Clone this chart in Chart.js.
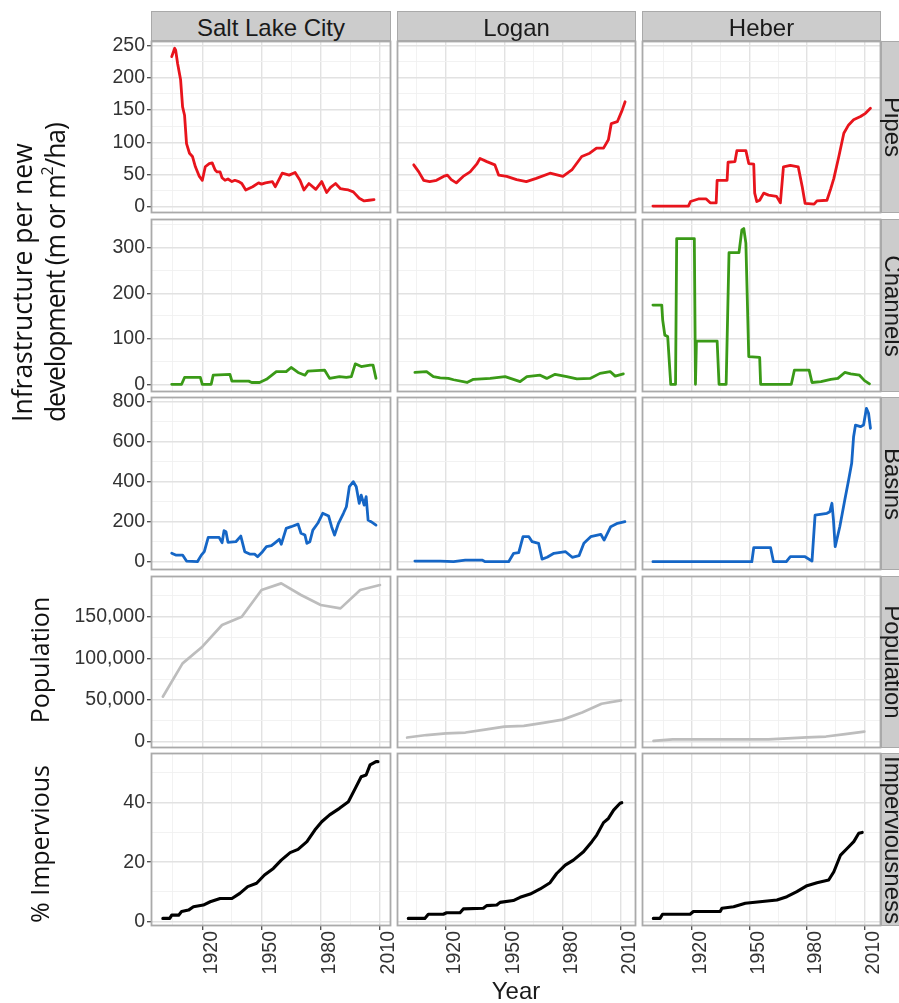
<!DOCTYPE html>
<html>
<head>
<meta charset="utf-8">
<title>Urban stormwater infrastructure, population and imperviousness</title>
<script src="https://cdn.jsdelivr.net/npm/chart.js@4.4.1/dist/chart.umd.min.js"></script>
<style>
  html, body { margin: 0; padding: 0; background: #ffffff; }
  body { width: 899px; height: 1003px; position: relative; overflow: hidden; }
  #fig { position: absolute; left: 0; top: 0; width: 899px; height: 1003px; }
  #fig canvas { position: absolute; }
  .strip { position: absolute; box-sizing: border-box; background: #cccccc; border: 1px solid #a9a9a9; }
  .txt { position: absolute; white-space: nowrap; color: #1a1a1a; }
  .strip-top { font: 24px "Liberation Sans", Arial, sans-serif; text-align: center; line-height: 31px; color: #1a1a1a; }
  .side { font: 24px "Liberation Sans", Arial, sans-serif; line-height: 27px; transform-origin: 0 0; transform: rotate(90deg) translateX(-50%); }
  .ytitle { font-family: "Open Sans", "Noto Sans", sans-serif; transform-origin: 0 0; color: #111; }
</style>
</head>
<body>
<div id="fig"></div>
<script>
// Facets
const cities = ['Salt Lake City', 'Logan', 'Heber'];
const measures = ['Pipes', 'Channels', 'Basins', 'Population', 'Imperviousness'];

// Axis tick labels
const yearTicks = [1920, 1950, 1980, 2010];
const pipesTicks = [0, 50, 100, 150, 200, 250];
const channelsTicks = [0, 100, 200, 300];
const basinsTicks = [0, 200, 400, 600, 800];
const populationTicks = [0, 50000, 100000, 150000];
const imperviousTicks = [0, 20, 40];

// Pipes, m per ha of new development: [year, value]
const pipesSaltLake = [[1904.5,233],[1906,246],[1906.5,243],[1907.5,222],[1909,197],[1910,155],[1911,142],[1912,98],[1913.5,83],[1915,78],[1916.5,62],[1918.5,47],[1920,41],[1921.5,62],[1923.5,67],[1925,68],[1926.5,57],[1927.5,54],[1929,54],[1930,45],[1931.5,41],[1933,43],[1935,39],[1936.5,41],[1938.5,39],[1940,36],[1942,26],[1945.5,31],[1948.5,37],[1950,35],[1952,37],[1955.5,39],[1957,31],[1958.5,40],[1960.5,52],[1964,49],[1967,53],[1969.5,41],[1971.5,26],[1974,36],[1977.5,27],[1980.5,39],[1983,22],[1985,30],[1987.5,36],[1990,28],[1992,27],[1994,26],[1996.5,23],[1999.5,13],[2002,9],[2004.5,10],[2007,11]];
const pipesLogan = [[1903.4,65],[1906,54],[1908.5,41],[1911.6,39],[1915.1,41],[1918.7,47],[1920.7,49],[1922.7,42],[1925.3,37],[1928.8,47],[1932.4,54],[1936,67],[1937.5,75],[1941,70],[1945.1,65],[1947.1,49],[1951.2,47],[1956.3,42],[1961.3,39],[1966.4,44],[1973.5,52],[1980.1,47],[1984.7,57],[1989.8,78],[1993.9,83],[1997.4,91],[2001,91],[2003.5,104],[2005,129],[2008.1,132],[2010.6,150],[2012.1,163]];
const pipesHeber = [[1899.7,1],[1918.2,1],[1919.3,8],[1923.4,12],[1927.5,12],[1929.6,6],[1932.7,6],[1933.2,41],[1938.4,41],[1938.9,69],[1942.5,70],[1943.5,87],[1948.2,87],[1949.7,67],[1952.3,66],[1952.8,21],[1953.9,8],[1955.4,10],[1957.5,21],[1960,18],[1964.2,16],[1966.2,6],[1967.8,62],[1971.4,64],[1975.5,62],[1977.6,31],[1979.1,5],[1983.8,4],[1985.3,9],[1990.5,10],[1992.5,28],[1994.1,44],[1996.7,78],[1999.3,114],[2001.8,127],[2004.4,135],[2008,140],[2010.6,145],[2013.2,153]];

// Channels, m per ha of new development
const channelsSaltLake = [[1904.5,0],[1909.5,0],[1911,15],[1919,15],[1920,0],[1924.5,0],[1925.5,20],[1934,22],[1935,7],[1943.5,7],[1945,4],[1949,4],[1952.5,11],[1957.5,28],[1962.5,28],[1965,37],[1968.5,26],[1972,20],[1973.5,29],[1982,31],[1984.5,13],[1989.5,17],[1993,15],[1995.5,17],[1997.5,45],[2000.5,39],[2005,42],[2006.5,42],[2008,13]];
const channelsLogan = [[1904,26],[1910,28],[1913.5,17],[1917,14],[1921.2,13],[1923.9,10],[1930.8,4],[1934.1,11],[1942.7,13],[1950.4,17],[1958.1,6],[1961.6,17],[1968.4,20],[1971.8,13],[1976.1,22],[1982.1,17],[1987.3,12],[1994.1,13],[1999.2,24],[2004.4,28],[2007,18],[2011.2,23]];
const channelsHeber = [[1899.7,174],[1904.3,174],[1904.8,141],[1905.9,108],[1907.4,105],[1909,0],[1911.5,0],[1912.1,320],[1921.3,320],[1921.9,0],[1922.4,95],[1933.2,95],[1934.2,0],[1937.9,0],[1939.4,289],[1944.6,289],[1946.1,339],[1947.1,342],[1948.2,310],[1949.7,61],[1955.4,59],[1955.9,0],[1971.9,0],[1973.5,31],[1981.2,31],[1982.7,4],[1987.4,6],[1992.5,11],[1996.2,13],[1999.8,26],[2002.9,23],[2007.5,20],[2010.1,8],[2012.7,1]];

// Detention basins, m2 per ha of new development
const basinsSaltLake = [[1904.5,42],[1906.5,33],[1910,33],[1912,3],[1917.5,0],[1919.5,33],[1921,50],[1923,122],[1928.5,122],[1930,95],[1931,155],[1932,150],[1933,97],[1937,100],[1939.5,128],[1941.5,50],[1944,38],[1946.5,38],[1948,25],[1950.5,50],[1952.5,75],[1955,80],[1956.5,92],[1959,112],[1960,87],[1962.5,167],[1965,175],[1968.5,188],[1970,142],[1972,133],[1973,92],[1974.5,100],[1976,158],[1978.5,192],[1981,242],[1984,228],[1985.5,175],[1987,133],[1989,192],[1991.5,242],[1993,275],[1994.5,375],[1996.5,400],[1998,375],[1999.5,292],[2000.5,333],[2002,283],[2003,325],[2004,208],[2005.5,200],[2008,183]];
const basinsLogan = [[1904,3],[1917,3],[1923.9,0],[1929.9,8],[1938.5,8],[1940.2,0],[1952.2,0],[1954.8,42],[1957.4,45],[1959.6,125],[1962.6,125],[1964.3,100],[1967.6,92],[1969.4,13],[1972,22],[1975.5,42],[1981.5,50],[1984.9,22],[1988.4,30],[1990.9,92],[1994.4,125],[1999.6,137],[2001.3,108],[2004.7,175],[2008.2,192],[2012,200]];
const basinsHeber = [[1899.7,0],[1951.3,0],[1952.3,70],[1961.1,70],[1962.6,0],[1969.3,0],[1971.4,25],[1979.1,25],[1982.7,3],[1984.3,233],[1990.5,242],[1992,250],[1993.1,292],[1993.9,208],[1994.8,75],[1997.2,175],[1999.8,308],[2001.8,408],[2003.4,492],[2004.4,625],[2005.4,683],[2008,675],[2009.6,683],[2011.1,767],[2012.2,742],[2013.2,667]];

// Census population
const populationSaltLake = [[1900,54000],[1910,94000],[1920,114000],[1930,140000],[1940,150000],[1950,182000],[1960,190000],[1970,176000],[1980,164000],[1990,160000],[2000,182000],[2010,188000]];
const populationLogan = [[1900,5000],[1910,8000],[1920,10000],[1930,11000],[1940,14500],[1950,18000],[1960,19000],[1970,22500],[1980,26500],[1990,35000],[2000,45500],[2010,49500]];
const populationHeber = [[1900,1000],[1910,2800],[1920,2800],[1930,2900],[1940,2800],[1950,2900],[1960,2900],[1970,4000],[1980,5200],[1990,6200],[2000,9000],[2010,12000]];

// Impervious cover, %
const imperviousSaltLake = [[1900,1.1],[1903.5,1.1],[1904.5,2.2],[1908,2.2],[1909.5,3.4],[1913,3.9],[1915.5,5],[1920.5,5.6],[1924,6.7],[1929,7.8],[1935,7.8],[1939,9.5],[1943,11.8],[1947.5,12.9],[1951.5,15.7],[1956,17.9],[1960,20.7],[1964.5,23.2],[1968.5,24.3],[1973,26.9],[1977,30.8],[1980.5,33.6],[1984.5,35.9],[1989.5,38.1],[1994,40.3],[1997.5,44.8],[2000.5,48.7],[2003,49.3],[2005,52.7],[2008,53.8],[2009,53.8]];
const imperviousLogan = [[1900.6,1.1],[1909.1,1.1],[1910.9,2.5],[1918.6,2.5],[1920.3,3],[1927.2,3],[1928.9,4.3],[1939.2,4.5],[1940.9,5.4],[1946.1,5.6],[1947.8,6.5],[1954.6,7.1],[1958.1,8.2],[1963.3,9.3],[1968.4,11],[1973.5,13.1],[1976.9,16.2],[1981.3,19],[1985.5,20.7],[1990.7,23.5],[1995,26.9],[1997.5,29.1],[2001,33.3],[2003.5,34.7],[2006.2,37.5],[2009.5,39.8],[2010.4,40]];
const imperviousHeber = [[1899.9,1.1],[1903.4,1.1],[1904.7,2.5],[1919.1,2.5],[1920.8,3.4],[1934.8,3.4],[1935.7,4.5],[1941.8,5],[1947.9,6.2],[1964.4,7.3],[1969.6,8.4],[1974.8,10.1],[1980.1,12.1],[1985.3,13.1],[1991.4,14],[1994.1,16.8],[1997.6,22.4],[2001,24.6],[2004.5,26.9],[2007.1,29.7],[2008.9,30]];

// Axis limits (year range per city column, value range per measure row)
const yearMin = [1894.0, 1894.8, 1894.0];
const yearMax = [2015.6, 2017.7, 2018.7];
const valueMin = [-9.8, -16.9, -41.5, -7560, -1.45];
const valueMax = [257.3, 363, 823.5, 198840, 56.7];

// Page layout of the facet grid
const panelLeft = [151, 397, 642];
const panelWidth = [240, 239, 239];
const panelTop = [41, 219, 397, 576, 753];
const panelHeight = [172, 173, 173, 172, 173];
const PAD = 20, AXIS_W = 150, AXIS_H = 60;

const rowsSpec = [
  { series: [pipesSaltLake, pipesLogan, pipesHeber], ticks: pipesTicks, color: '#e8141c', width: 2.8 },
  { series: [channelsSaltLake, channelsLogan, channelsHeber], ticks: channelsTicks, color: '#3a9a17', width: 2.8 },
  { series: [basinsSaltLake, basinsLogan, basinsHeber], ticks: basinsTicks, color: '#1566c6', width: 2.8 },
  { series: [populationSaltLake, populationLogan, populationHeber], ticks: populationTicks, color: '#bdbdbd', width: 2.7, thousands: true },
  { series: [imperviousSaltLake, imperviousLogan, imperviousHeber], ticks: imperviousTicks, color: '#000000', width: 3.1 }
];

// Minor grid positions halfway between major ticks
function minorBetween(major, lo, hi) {
  const step = major[1] - major[0];
  const out = [];
  for (let v = major[0] - step / 2; v <= hi; v += step) if (v >= lo) out.push(v);
  return out;
}

const MAJOR_GRID = '#e2e2e2', MINOR_GRID = '#f1f1f1';
const TICK_FONT = { family: '"Liberation Sans", Arial, sans-serif', size: 19.5 };

const panelBorder = {
  id: 'panelBorder',
  afterDraw(chart) {
    const { ctx, chartArea: a } = chart;
    ctx.save();
    ctx.strokeStyle = '#aaaaaa';
    ctx.lineWidth = 1.8;
    ctx.strokeRect(a.left + 0.5, a.top + 0.5, a.width - 1, a.height - 1);
    ctx.restore();
  }
};

const fig = document.getElementById('fig');

function gridOpts(major, showTicks) {
  const isMajor = (ctx) => ctx.tick && major.includes(ctx.tick.value);
  return {
    color: (ctx) => isMajor(ctx) ? MAJOR_GRID : MINOR_GRID,
    lineWidth: (ctx) => isMajor(ctx) ? 1.4 : 0.9,
    drawTicks: showTicks,
    tickLength: 4,
    tickWidth: 1.3,
    tickColor: (ctx) => isMajor(ctx) ? '#4a4a4a' : 'rgba(0,0,0,0)'
  };
}

function drawPanel(r, c) {
  const spec = rowsSpec[r];
  const isLeft = c === 0;
  const isBottom = r === rowsSpec.length - 1;
  const extraL = isLeft ? AXIS_W : PAD;
  const extraB = isBottom ? AXIS_H : PAD;
  const w = panelWidth[c] + extraL + PAD;
  const h = panelHeight[r] + PAD + extraB;

  const canvas = document.createElement('canvas');
  canvas.width = w; canvas.height = h;
  canvas.style.width = w + 'px'; canvas.style.height = h + 'px';
  canvas.style.left = (panelLeft[c] - extraL) + 'px';
  canvas.style.top = (panelTop[r] - PAD) + 'px';
  fig.appendChild(canvas);

  const xMajor = yearTicks;
  const xAll = xMajor.concat(minorBetween(xMajor, yearMin[c], yearMax[c])).sort((a, b) => a - b);
  const yMajor = spec.ticks;
  const yAll = yMajor.concat(minorBetween(yMajor, valueMin[r], valueMax[r])).sort((a, b) => a - b);
  const fmt = spec.thousands ? (v) => v.toLocaleString('en-US') : (v) => String(v);

  new Chart(canvas, {
    type: 'line',
    data: {
      datasets: [{
        label: measures[r] + ' – ' + cities[c],
        data: spec.series[c].map(([x, y]) => ({ x, y })),
        borderColor: spec.color,
        borderWidth: spec.width,
        pointRadius: 0,
        tension: 0,
        fill: false,
        borderJoinStyle: 'round',
        borderCapStyle: 'round'
      }]
    },
    options: {
      responsive: false,
      animation: false,
      devicePixelRatio: 1,
      events: [],
      layout: { padding: { left: isLeft ? 0 : PAD, right: PAD, top: PAD, bottom: isBottom ? 0 : PAD } },
      plugins: { legend: { display: false }, tooltip: { enabled: false } },
      scales: {
        x: {
          type: 'linear',
          min: yearMin[c], max: yearMax[c],
          afterBuildTicks: (s) => { s.ticks = xAll.map((v) => ({ value: v })); },
          afterFit: (s) => { s.height = isBottom ? AXIS_H : 0; },
          grid: gridOpts(xMajor, isBottom),
          border: { display: false },
          ticks: {
            display: isBottom,
            autoSkip: false,
            minRotation: 90, maxRotation: 90,
            labelOffset: 9,
            padding: 1,
            font: TICK_FONT,
            color: '#333333',
            callback: (v) => xMajor.includes(v) ? String(v) : ''
          }
        },
        y: {
          type: 'linear',
          min: valueMin[r], max: valueMax[r],
          afterBuildTicks: (s) => { s.ticks = yAll.map((v) => ({ value: v })); },
          afterFit: (s) => { s.width = isLeft ? AXIS_W : 0; },
          grid: gridOpts(yMajor, isLeft),
          border: { display: false },
          ticks: {
            display: isLeft,
            autoSkip: false,
            padding: 2,
            font: TICK_FONT,
            color: '#333333',
            callback: (v) => yMajor.includes(v) ? fmt(v) : ''
          }
        }
      }
    },
    plugins: [panelBorder]
  });
}

for (let r = 0; r < rowsSpec.length; r++) {
  for (let c = 0; c < cities.length; c++) drawPanel(r, c);
}

// Facet strips
function addDiv(cls, html, style) {
  const d = document.createElement('div');
  d.className = cls;
  d.innerHTML = html;
  Object.assign(d.style, style);
  fig.appendChild(d);
  return d;
}

cities.forEach((name, c) => {
  addDiv('strip strip-top', name, {
    left: panelLeft[c] + 'px', top: '11px',
    width: panelWidth[c] + 'px', height: '30px'
  });
});

const stripX = panelLeft[2] + panelWidth[2];
measures.forEach((name, r) => {
  addDiv('strip', '', {
    left: stripX + 'px', top: panelTop[r] + 'px',
    width: '30px', height: panelHeight[r] + 'px'
  });
  addDiv('txt side', name, {
    left: (stripX + 26) + 'px',
    top: (panelTop[r] + panelHeight[r] / 2) + 'px'
  });
});

// Axis titles
addDiv('txt ytitle', 'Infrastructure per new<br><span style="letter-spacing:-1.1px">development (m or m<sup style="font-size:0.6em;vertical-align:0.75em;line-height:0">2</sup>/ha)</span>', {
  left: '6px', top: '422px',
  fontSize: '26.5px', lineHeight: '33px',
  transform: 'rotate(-90deg)'
});
addDiv('txt ytitle', 'Population', {
  left: '22px', top: '660px',
  fontSize: '25px', lineHeight: '34px',
  transform: 'rotate(-90deg) translateX(-50%)'
});
addDiv('txt ytitle', '% Impervious', {
  left: '22px', top: '844px',
  fontSize: '25px', lineHeight: '34px',
  transform: 'rotate(-90deg) translateX(-50%)'
});
addDiv('txt', 'Year', {
  left: panelLeft[0] + 'px', top: '979px',
  width: (panelLeft[2] + panelWidth[2] - panelLeft[0]) + 'px',
  textAlign: 'center',
  font: '24px "Liberation Sans", Arial, sans-serif',
  lineHeight: '24px'
});
</script>
</body>
</html>
